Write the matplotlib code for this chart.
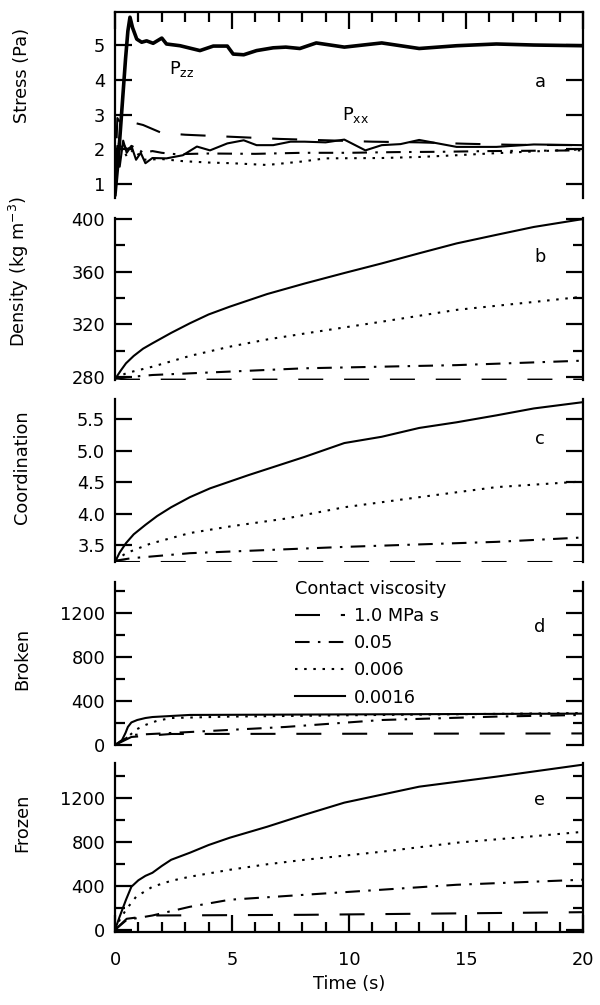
import matplotlib
matplotlib.use("Agg")
import matplotlib.pyplot as plt
from matplotlib.ticker import MultipleLocator

plt.rcParams['font.family'] = ['DejaVu Sans']
plt.rcParams['mathtext.fontset'] = 'dejavusans'

# ---- data ----
# a: stress
pzz_t = [0, 0.15, 0.3, 0.45, 0.55, 0.64, 0.75, 0.93, 1.14, 1.35, 1.63, 2.0, 2.2, 2.78,
         3.63, 4.2, 4.8, 5.05, 5.5, 6.05, 6.76, 7.3, 7.9, 8.6, 9.8, 11.4, 13.0, 14.6,
         16.3, 17.9, 20]
pzz_v = [0.7, 1.8, 3.2, 4.6, 5.4, 5.8, 5.5, 5.17, 5.08, 5.12, 5.05, 5.2, 5.03, 4.98,
         4.84, 4.97, 4.97, 4.74, 4.72, 4.84, 4.92, 4.94, 4.9, 5.06, 4.94, 5.06, 4.9, 4.98,
         5.03, 5.0, 4.98]

pxx_t_10 = [0, 0.1, 0.3, 0.6, 0.9, 1.2, 2, 3, 5, 7, 9, 11, 13, 15, 17, 20]
pxx_v_10 = [1.0, 2.9, 2.7, 2.6, 2.75, 2.7, 2.47, 2.42, 2.36, 2.3, 2.26, 2.22, 2.2, 2.16, 2.13, 2.12]
pxx_t_05 = [0, 0.2, 0.5, 0.8, 1.2, 1.6, 2.0, 2.6, 4, 6, 8, 10, 12, 14, 16, 18, 20]
pxx_v_05 = [1.5, 2.3, 2.0, 2.1, 1.9, 1.95, 1.9, 1.86, 1.88, 1.87, 1.9, 1.9, 1.92, 1.93, 1.95, 1.96, 1.97]
pxx_t_006 = [0, 0.2, 0.5, 0.8, 1.2, 2.0, 2.9, 4, 5, 6.5, 8, 9, 11.4, 13, 14.6, 16, 17.9, 20]
pxx_v_006 = [1.8, 2.2, 1.8, 2.0, 1.7, 1.72, 1.66, 1.62, 1.6, 1.55, 1.65, 1.74, 1.75, 1.78, 1.83, 1.88, 1.94, 2.0]
pxx_t_0016 = [0, 0.1, 0.2, 0.35, 0.5, 0.7, 0.9, 1.1, 1.3, 1.6, 2.2, 2.9, 3.5, 4.06, 4.8, 5.5,
              6.05, 6.76, 7.5, 8.1, 9.0, 9.8, 10.7, 11.4, 12.2, 13, 14.6, 16.3, 17.9, 20]
pxx_v_0016 = [1.2, 2.1, 1.5, 2.25, 1.9, 2.1, 1.7, 1.9, 1.6, 1.75, 1.74, 1.83, 2.08, 1.97, 2.17, 2.26,
              2.12, 2.12, 2.22, 2.22, 2.2, 2.28, 1.97, 2.12, 2.15, 2.27, 2.07, 2.07, 2.14, 2.12]

# b: density
dens_t_10 = [0, 0.5, 2, 20]
dens_v_10 = [279, 278, 278, 278]
dens_t_05 = [0, 1.6, 8.1, 14.6, 20]
dens_v_05 = [279, 281.5, 286.6, 289, 292.4]
dens_t_006 = [0, 0.5, 1.6, 3.2, 4.9, 6.5, 8.1, 11.4, 14.6, 17.9, 20]
dens_v_006 = [279, 283, 287.8, 296, 303, 308.5, 313, 322, 331, 337, 341]
dens_t_0016 = [0, 0.1, 0.25, 0.47, 0.8, 1.2, 1.6, 2.4, 3.2, 4.0, 4.9, 6.5, 8.1, 9.8, 11.4,
               13.0, 14.6, 16.3, 17.9, 20]
dens_v_0016 = [278, 281, 285, 290.4, 296, 301.5, 305.6, 313.5, 320.8, 327.5, 333.4, 343, 351,
               359, 366.3, 374, 381.5, 388, 394, 400]

# c: coordination
coord_t_10 = [0, 0.5, 20]
coord_v_10 = [3.25, 3.23, 3.23]
coord_t_05 = [0, 0.7, 3.2, 9.8, 16.3, 20]
coord_v_05 = [3.25, 3.29, 3.37, 3.47, 3.55, 3.62]
coord_t_006 = [0, 0.47, 1.5, 3.2, 5.0, 7.3, 9.8, 13, 16.3, 20]
coord_v_006 = [3.25, 3.37, 3.52, 3.69, 3.8, 3.92, 4.1, 4.26, 4.42, 4.51]
coord_t_0016 = [0, 0.2, 0.47, 0.8, 1.3, 1.8, 2.4, 3.2, 4.06, 5.7, 8.1, 9.8, 11.4, 13, 14.6,
                16.3, 17.9, 20]
coord_v_0016 = [3.23, 3.38, 3.53, 3.67, 3.82, 3.96, 4.1, 4.26, 4.4, 4.61, 4.9, 5.12, 5.22,
                5.36, 5.45, 5.56, 5.67, 5.77]

# d: broken
brok_t_10 = [0, 0.7, 2.4, 20]
brok_v_10 = [0, 73, 100, 105]
brok_t_05 = [0, 0.7, 2.4, 7.3, 11.4, 16.3, 20]
brok_v_05 = [0, 91, 109, 164, 227, 258, 273]
brok_t_006 = [0, 0.55, 0.9, 1.3, 1.8, 2.4, 4.9, 11.4, 20]
brok_v_006 = [0, 73, 140, 182, 220, 245, 258, 273, 290]
brok_t_0016 = [0, 0.3, 0.45, 0.55, 0.7, 0.95, 1.3, 1.6, 3.2, 20]
brok_v_0016 = [0, 45, 110, 164, 205, 227, 245, 254, 273, 285]

# e: frozen
froz_t_10 = [0, 0.5, 1.6, 8.1, 20]
froz_v_10 = [0, 100, 130, 136, 160]
froz_t_05 = [0, 0.5, 1.6, 3.2, 4.9, 8.1, 11.4, 14.6, 20]
froz_v_05 = [0, 90, 130, 209, 273, 318, 364, 409, 455]
froz_t_006 = [0, 0.2, 0.47, 0.9, 1.6, 2.4, 3.2, 4.9, 6.5, 8.1, 11.4, 14.6, 17.9, 20]
froz_v_006 = [0, 90, 182, 300, 391, 445, 482, 545, 595, 636, 709, 791, 850, 890]
froz_t_0016 = [0, 0.2, 0.47, 0.7, 1.0, 1.3, 1.6, 2.0, 2.4, 3.2, 4.0, 4.9, 6.5, 8.1, 9.8,
               13, 16.3, 20]
froz_v_0016 = [0, 120, 273, 391, 450, 490, 518, 580, 636, 700, 770, 836, 936, 1045, 1155,
               1300, 1391, 1500]

legend_labels = ["1.0 MPa s", "0.05", "0.006", "0.0016"]

# ---- styles ----
LW = 1.5
styles = [
    dict(color="black", lw=LW, dashes=(12, 10)),
    dict(color="black", lw=LW, dashes=(7, 4, 1.2, 4)),
    dict(color="black", lw=LW, dashes=(1.2, 3.2)),
    dict(color="black", lw=LW, linestyle="-"),
]
FS = 12.8

fig = plt.figure(figsize=(6, 10.05), dpi=100)
left, width = 115 / 600, 468 / 600
H = 1005
boxes = [(12, 198), (218, 380), (399, 562), (582, 745), (763, 932)]
axes = []
for top, bot in boxes:
    ax = fig.add_axes([left, 1 - bot / H, width, (bot - top) / H])
    axes.append(ax)

for ax in axes:
    ax.set_xlim(0, 20)
    for s in ax.spines.values():
        s.set_linewidth(1.6)
    ax.tick_params(axis="y", which="both", direction="in", left=True, right=True,
                   width=1.6, labelsize=FS, pad=7)
    ax.tick_params(axis="y", which="major", length=12)
    ax.tick_params(axis="y", which="minor", length=7)
    ax.tick_params(axis="x", which="both", bottom=False, top=False, labelbottom=False)
    ax.spines["top"].set_visible(False)
    ax.spines["bottom"].set_visible(False)

# panel a
ax = axes[0]
ax.spines["top"].set_visible(True)
ax.set_ylim(0.6, 5.95)
ax.yaxis.set_major_locator(MultipleLocator(1))
ax.xaxis.set_major_locator(MultipleLocator(5))
ax.xaxis.set_minor_locator(MultipleLocator(1))
ax.tick_params(axis="x", which="both", top=True, direction="in", width=1.6)
ax.tick_params(axis="x", which="major", length=12)
ax.tick_params(axis="x", which="minor", length=7)
ax.plot(pzz_t, pzz_v, color="black", lw=2.6)
for (t, v), st in zip([(pxx_t_10, pxx_v_10), (pxx_t_05, pxx_v_05),
                       (pxx_t_006, pxx_v_006), (pxx_t_0016, pxx_v_0016)], styles):
    ax.plot(t, v, **st)
ax.text(2.3, 4.3, r"P$_{\mathrm{zz}}$", fontsize=FS, va="center")
ax.text(9.7, 3.0, r"P$_{\mathrm{xx}}$", fontsize=FS, va="center")
ax.set_ylabel("Stress (Pa)", fontsize=FS)
ax.yaxis.set_label_coords(-0.18, 0.66)

# panel b
ax = axes[1]
ax.set_ylim(277.7, 400.8)
ax.yaxis.set_major_locator(MultipleLocator(40))
ax.yaxis.set_minor_locator(MultipleLocator(20))
for (t, v), st in zip([(dens_t_10, dens_v_10), (dens_t_05, dens_v_05),
                       (dens_t_006, dens_v_006), (dens_t_0016, dens_v_0016)], styles):
    ax.plot(t, v, **st)
ax.set_ylabel(r"Density (kg m$^{-3}$)", fontsize=FS)
ax.yaxis.set_label_coords(-0.18, 0.67)

# panel c
ax = axes[2]
ax.set_ylim(3.23, 5.82)
ax.yaxis.set_major_locator(MultipleLocator(0.5))
ax.yaxis.set_major_formatter(matplotlib.ticker.FormatStrFormatter("%.1f"))
for (t, v), st in zip([(coord_t_10, coord_v_10), (coord_t_05, coord_v_05),
                       (coord_t_006, coord_v_006), (coord_t_0016, coord_v_0016)], styles):
    ax.plot(t, v, **st)
ax.set_ylabel("Coordination", fontsize=FS)
ax.yaxis.set_label_coords(-0.18, 0.58)

# panel d
ax = axes[3]
ax.set_ylim(0, 1480)
ax.yaxis.set_major_locator(MultipleLocator(400))
ax.yaxis.set_minor_locator(MultipleLocator(200))
lines = []
for (t, v), st, lab in zip([(brok_t_10, brok_v_10), (brok_t_05, brok_v_05),
                            (brok_t_006, brok_v_006), (brok_t_0016, brok_v_0016)],
                           styles, legend_labels):
    ln, = ax.plot(t, v, label=lab, **st)
    lines.append(ln)
ax.set_ylabel("Broken", fontsize=FS)
ax.yaxis.set_label_coords(-0.18, 0.53)
leg = ax.legend(handles=lines, title="Contact viscosity", loc="upper left",
                bbox_to_anchor=(0.385, 1.015), frameon=False, fontsize=FS,
                title_fontsize=FS, handlelength=2.8, handletextpad=0.5,
                labelspacing=0.52, borderpad=0, borderaxespad=0, alignment="left")

# panel e
ax = axes[4]
ax.spines["bottom"].set_visible(True)
ax.set_ylim(-20, 1515)
ax.yaxis.set_major_locator(MultipleLocator(400))
ax.yaxis.set_minor_locator(MultipleLocator(200))
ax.xaxis.set_major_locator(MultipleLocator(5))
ax.xaxis.set_minor_locator(MultipleLocator(1))
ax.tick_params(axis="x", which="both", bottom=True, labelbottom=True, direction="in",
               width=1.6, labelsize=FS, pad=14)
ax.tick_params(axis="x", which="major", length=12)
ax.tick_params(axis="x", which="minor", length=7)
for (t, v), st in zip([(froz_t_10, froz_v_10), (froz_t_05, froz_v_05),
                       (froz_t_006, froz_v_006), (froz_t_0016, froz_v_0016)], styles):
    ax.plot(t, v, **st)
ax.set_ylabel("Frozen", fontsize=FS)
ax.yaxis.set_label_coords(-0.18, 0.645)
ax.set_xlabel("Time (s)", fontsize=FS, labelpad=4)

# panel letters
for ax, letter, yy in zip(axes, "abcde", [0.624, 0.76, 0.755, 0.724, 0.78]):
    ax.text(0.908, yy, letter, transform=ax.transAxes, fontsize=FS,
            ha="center", va="center")

fig.savefig("out.png", dpi=100)
